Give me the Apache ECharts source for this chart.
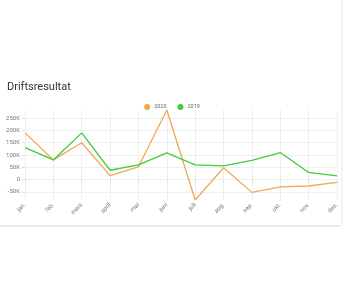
<!DOCTYPE html>
<html>
<head>
<meta charset="utf-8">
<script src="https://cdn.jsdelivr.net/npm/echarts@6/dist/echarts.min.js"></script>
<style>
  html, body { margin: 0; padding: 0; background: #fff; }
  .card { position: absolute; left: -4px; top: -10px; width: 345px; height: 235px;
    background: #fff; box-shadow: 0 1px 3px rgba(0,0,0,0.18); }
  #chart { position: absolute; left: 0; top: 0; width: 344px; height: 300px; }
</style>
</head>
<body>
<div class="card"></div>
<div id="chart"></div>
<script>
// Driftsresultat per måned, 2020 mot 2019
const months = ['jan.', 'feb.', 'mars', 'april', 'mai', 'juni', 'juli', 'aug.', 'sep.', 'okt.', 'nov.', 'des.']
const res2020 = [190000, 80000, 150000, 16000, 52000, 283000, -83000, 48000, -52000, -30000, -26000, -11000]
const res2019 = [130000, 80000, 190000, 38000, 60000, 109000, 60000, 56000, 78000, 110000, 29000, 15000]
const yTicks = [-50000, 0, 50000, 100000, 150000, 200000, 250000]

const fmtK = (v) => (v === 0 ? '0' : Math.round(v / 1000) + 'K')

const chart = echarts.init(document.getElementById('chart'))
chart.setOption({
  animation: false,
  textStyle: { fontFamily: 'Roboto, sans-serif' },
  title: {
    text: 'Driftsresultat', left: 2, top: 77,
    textStyle: { fontSize: 11, fontWeight: 'normal', color: '#333' },
  },
  legend: {
    top: 99, left: 'center', icon: 'circle', itemWidth: 6, itemHeight: 6, itemGap: 11,
    textStyle: { fontSize: 5.5, color: '#666', padding: [0, 0, 0, -1] },
    data: ['2020', '2019'],
  },
  grid: { left: 25, right: 7, top: 110, bottom: 100 },
  xAxis: {
    type: 'category', data: months, boundaryGap: false,
    axisLine: { show: false },
    axisTick: { show: true, length: 3, lineStyle: { color: '#ddd' } },
    axisLabel: { rotate: 45, fontSize: 6, color: '#777', margin: 4 },
    splitLine: { show: true, lineStyle: { color: '#eee' } },
  },
  yAxis: {
    type: 'value', min: -83000, max: 283000,
    axisLine: { show: false },
    axisTick: { show: true, length: 3, customValues: yTicks, lineStyle: { color: '#ddd' } },
    axisLabel: { fontSize: 6, color: '#777', margin: 5, customValues: yTicks, formatter: fmtK },
    splitLine: { show: true, lineStyle: { color: '#eee' } },
  },
  series: [
    {
      name: '2020', type: 'line', data: res2020, showSymbol: false,
      itemStyle: { color: '#F0A856' }, lineStyle: { width: 1.3, color: '#F0A856' },
    },
    {
      name: '2019', type: 'line', data: res2019, showSymbol: false,
      itemStyle: { color: '#3FCC3F' }, lineStyle: { width: 1.3, color: '#3FCC3F' },
    },
  ],
})
</script>
</body>
</html>
